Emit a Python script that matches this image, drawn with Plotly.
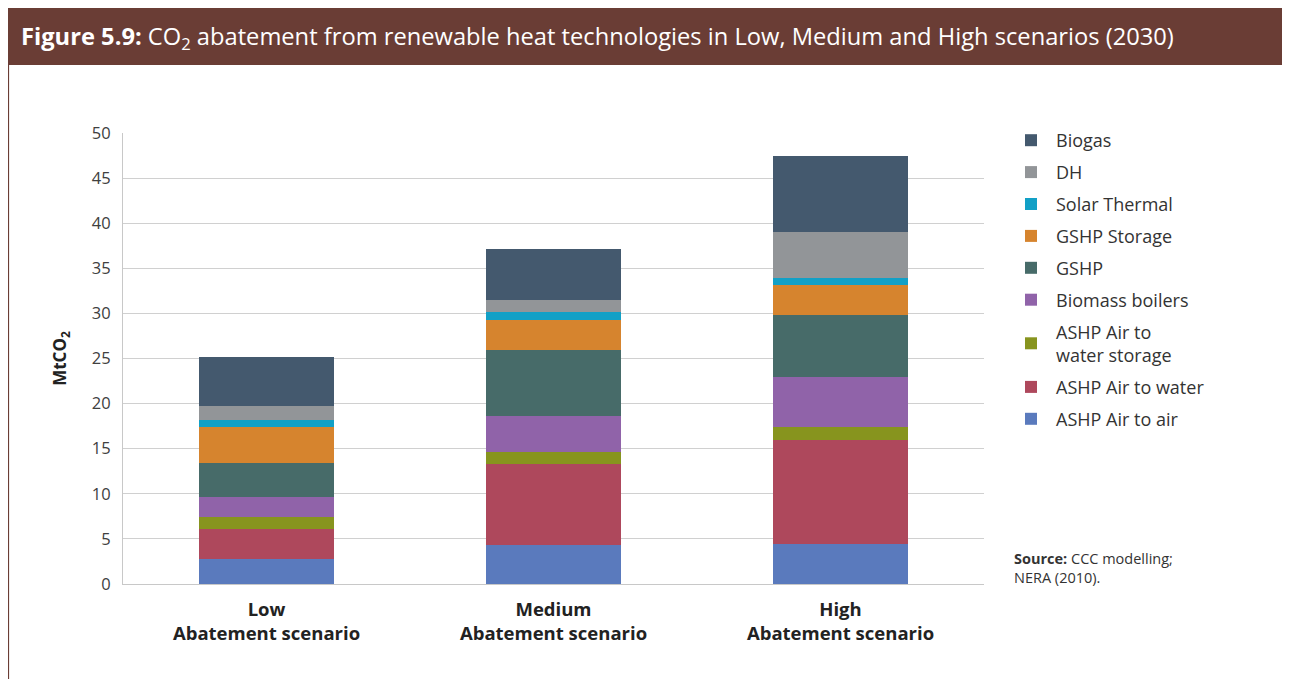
import plotly.graph_objects as go

categories = ["<b>Low<br>Abatement scenario</b>", "<b>Medium<br>Abatement scenario</b>", "<b>High<br>Abatement scenario</b>"]

series_names = ["ASHP Air to air", "ASHP Air to water", "ASHP Air to<br>water storage",
                "Biomass boilers", "GSHP", "GSHP Storage", "Solar Thermal", "DH", "Biogas"]

ashp_air_to_air = [2.75, 4.30, 4.38]
ashp_air_to_water = [3.33, 8.95, 11.53]
ashp_water_storage = [1.33, 1.44, 1.52]
biomass_boilers = [2.29, 3.99, 5.57]
gshp = [3.66, 7.21, 6.77]
gshp_storage = [4.02, 3.43, 3.43]
solar_thermal = [0.75, 0.89, 0.78]
dh = [1.55, 1.33, 4.99]
biogas = [5.46, 5.55, 8.53]

series_values = [ashp_air_to_air, ashp_air_to_water, ashp_water_storage, biomass_boilers,
                 gshp, gshp_storage, solar_thermal, dh, biogas]
colors = ["#5a7abd", "#ae485c", "#87941e", "#9063a9", "#476b69",
          "#d6842e", "#12a0c6", "#929598", "#44596e"]

y_ticks = [0, 5, 10, 15, 20, 25, 30, 35, 40, 45, 50]

FONT = "Open Sans"

fig = go.Figure()
n = len(series_names)
for i, (name, vals, col) in enumerate(zip(series_names, series_values, colors)):
    fig.add_trace(go.Bar(x=categories, y=vals, name=name, marker=dict(color=col, line=dict(width=0)),
                         legendgroup=f"g{i}", legendrank=n - i))

# page offset of 8px (body margin) -> figure coordinates
OFF = 8
W, H = 1290 - OFF, 679 - OFF
L = 123 - OFF
T = 133 - OFF
R = W - (984 - OFF)
B = H - (584 - OFF)
PW, PH = W - L - R, H - T - B


def px(x):
    return (x - OFF - L) / PW


def py(y):
    return (H - B - (y - OFF)) / PH


fig.update_layout(
    width=W, height=H,
    barmode="stack",
    bargap=0.533,
    plot_bgcolor="white", paper_bgcolor="white",
    margin=dict(l=L, r=R, t=T, b=B, autoexpand=False),
    font=dict(family=FONT, color="#333333", size=16),
    showlegend=True,
    legend=dict(
        traceorder="grouped", tracegroupgap=5.5,
        x=px(1006), xanchor="left",
        y=py(122), yanchor="top",
        font=dict(size=18, color="#333333", family=FONT),
        itemwidth=40, bgcolor="rgba(0,0,0,0)",
    ),
    xaxis=dict(
        tickfont=dict(size=18.5, color="#222222", family=FONT),
        showline=True, linecolor="#c8c8c8", linewidth=1,
        ticks="", showgrid=False, ticklabelstandoff=9,
    ),
    yaxis=dict(
        range=[0, 50], tickvals=y_ticks, ticktext=[str(v) for v in y_ticks],
        showgrid=True, gridcolor="#d0d0d0", gridwidth=1,
        showline=True, linecolor="#c8c8c8", linewidth=1,
        ticks="", ticklabelstandoff=8,
        tickfont=dict(size=16.5, color="#404040", family=FONT),
        zeroline=False,
        title=dict(text="<b>MtCO<sub>2</sub></b>", font=dict(size=17, color="#222222", family=FONT),
                   standoff=20),
    ),
    shapes=[
        dict(type="rect", xref="paper", yref="paper",
             x0=px(8), x1=px(1285), y0=py(65), y1=py(8),
             fillcolor="#6a3d35", line=dict(width=0), layer="below"),
        dict(type="line", xref="paper", yref="paper",
             x0=px(8.5), x1=px(8.5), y0=py(679), y1=py(65),
             line=dict(color="#6a3d35", width=1.2)),
    ],
    annotations=[
        dict(xref="paper", yref="paper", x=px(19), y=py(38),
             xanchor="left", yanchor="middle", showarrow=False,
             text="<b>Figure 5.9:</b> CO<sub>2</sub> abatement from renewable heat technologies in Low, Medium and High scenarios (2030)",
             font=dict(family=FONT, size=23.7, color="white")),
        dict(xref="paper", yref="paper", x=px(1012), y=py(547),
             xanchor="left", yanchor="top", showarrow=False, align="left",
             text="<b>Source:</b> CCC modelling;<br>NERA (2010).",
             font=dict(family=FONT, size=14.5, color="#333333")),
    ],
)

fig.write_html("out.html")
